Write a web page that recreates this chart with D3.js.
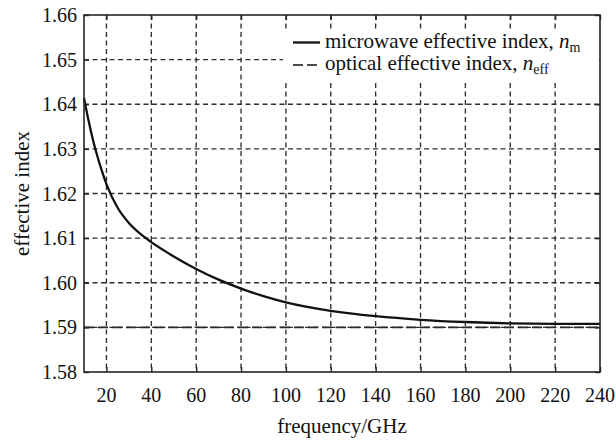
<!DOCTYPE html>
<html>
<head>
<meta charset="utf-8">
<script src="https://cdn.jsdelivr.net/npm/d3@7"></script>
<style>
  html, body { margin: 0; padding: 0; background: #fff; }
  svg { display: block; font-family: "Liberation Serif", "Times New Roman", serif; }
</style>
</head>
<body>
<svg id="chart" width="616" height="443"></svg>
<script>
// Microwave effective index n_m versus frequency (GHz)
const frequency = [10, 12, 14, 16, 18, 20, 25, 30, 35, 40, 50, 60, 70, 80, 90, 100, 120, 140, 160, 180, 200, 220, 240];
const microwaveIndex = [1.6414, 1.6364, 1.6320, 1.6283, 1.6250, 1.6221, 1.6168, 1.6134, 1.6110, 1.6091, 1.6059, 1.6031, 1.6007, 1.5987, 1.5970, 1.5956, 1.5937, 1.5925, 1.5917, 1.5912, 1.5909, 1.5908, 1.5908];
// Optical effective index n_eff (constant over the band)
const opticalFrequency = [10, 240];
const opticalIndex = [1.59, 1.59];

const xTicks = [20, 40, 60, 80, 100, 120, 140, 160, 180, 200, 220, 240];
const yTicks = [1.58, 1.59, 1.60, 1.61, 1.62, 1.63, 1.64, 1.65, 1.66];
const legendLabels = ["microwave effective index, ", "optical effective index, "];
const legendSymbols = ["n", "n"];
const legendSubscripts = ["m", "eff"];

const svg = d3.select("#chart");
const margin = { left: 84, top: 15, right: 16, bottom: 71 };
const W = 616, H = 443;
const x0 = margin.left, x1 = W - margin.right;
const y0 = margin.top, y1 = H - margin.bottom;

const x = d3.scaleLinear().domain([10, 240]).range([x0, x1]);
const y = d3.scaleLinear().domain([1.58, 1.66]).range([y1, y0]);

const ink = "#262626";
const textInk = "#111";
const tickFont = 20;
const titleFont = 21;

// grid
const grid = svg.append("g").attr("stroke", "#2e2e2e").attr("stroke-width", 1.35)
  .attr("stroke-dasharray", "5,3.5").attr("fill", "none");
grid.selectAll("line.v").data(xTicks.filter(t => t < 240)).join("line")
  .attr("class", "v")
  .attr("x1", d => x(d)).attr("x2", d => x(d))
  .attr("y1", y0).attr("y2", y1);
grid.selectAll("line.h").data(yTicks.filter(t => t > 1.58 && t < 1.66)).join("line")
  .attr("class", "h")
  .attr("x1", x0).attr("x2", x1)
  .attr("y1", d => y(d)).attr("y2", d => y(d));

// inward ticks on all four sides
const tickLen = 5;
const bottomAxis = d3.axisBottom(x).tickValues(xTicks).tickSize(-tickLen).tickFormat("");
const topAxis = d3.axisTop(x).tickValues(xTicks).tickSize(-tickLen).tickFormat("");
const leftAxis = d3.axisLeft(y).tickValues(yTicks).tickSize(-tickLen).tickFormat("");
const rightAxis = d3.axisRight(y).tickValues(yTicks).tickSize(-tickLen).tickFormat("");
[[bottomAxis, `translate(0,${y1})`], [topAxis, `translate(0,${y0})`],
 [leftAxis, `translate(${x0},0)`], [rightAxis, `translate(${x1},0)`]].forEach(([ax, tr]) => {
  const g = svg.append("g").attr("transform", tr).call(ax);
  g.select(".domain").remove();
  g.selectAll(".tick line").attr("stroke", ink).attr("stroke-width", 1.4);
});

// tick labels
svg.append("g").selectAll("text").data(xTicks).join("text")
  .attr("x", d => x(d)).attr("y", 402)
  .attr("text-anchor", "middle").attr("font-size", tickFont).attr("fill", textInk)
  .text(d => d);
svg.append("g").selectAll("text").data(yTicks).join("text")
  .attr("x", x0 - 7).attr("y", d => y(d) + 7)
  .attr("text-anchor", "end").attr("font-size", tickFont).attr("fill", textInk)
  .text(d => d.toFixed(2));

// axis titles
svg.append("text").attr("x", (x0 + x1) / 2).attr("y", 433)
  .attr("text-anchor", "middle").attr("font-size", titleFont).attr("fill", textInk)
  .text("frequency/GHz");
svg.append("text").attr("transform", `translate(29,${(y0 + y1) / 2}) rotate(-90)`)
  .attr("text-anchor", "middle").attr("font-size", titleFont).attr("fill", textInk)
  .text("effective index");

// series
const line = d3.line().x(d => x(d[0])).y(d => y(d[1])).curve(d3.curveMonotoneX);
svg.append("path")
  .datum(d3.zip(opticalFrequency, opticalIndex))
  .attr("d", line).attr("fill", "none")
  .attr("stroke", "#2a2a2a").attr("stroke-width", 1.7).attr("stroke-dasharray", "10,4");
svg.append("path")
  .datum(d3.zip(frequency, microwaveIndex))
  .attr("d", line).attr("fill", "none")
  .attr("stroke", "#111").attr("stroke-width", 2.3);

// legend
const lg = svg.append("g");
lg.append("rect").attr("x", 283).attr("y", 29).attr("width", x1 - 284).attr("height", 52)
  .attr("fill", "#fff");
const rows = [0, 1];
const rowY = [42.5, 65];
lg.selectAll("line").data(rows).join("line")
  .attr("x1", 293).attr("x2", 320)
  .attr("y1", i => rowY[i]).attr("y2", i => rowY[i])
  .attr("stroke", "#111")
  .attr("stroke-width", i => i === 0 ? 2.3 : 1.7)
  .attr("stroke-dasharray", i => i === 0 ? null : "10,4");
const lt = lg.selectAll("text").data(rows).join("text")
  .attr("x", 325).attr("y", i => rowY[i] + 5)
  .attr("font-size", titleFont).attr("fill", textInk);
lt.append("tspan").text(i => legendLabels[i]);
lt.append("tspan").attr("font-style", "italic").text(i => legendSymbols[i]);
lt.append("tspan").attr("font-size", 14).attr("dy", 4).text(i => legendSubscripts[i]);

// frame
svg.append("rect").attr("x", x0).attr("y", y0).attr("width", x1 - x0).attr("height", y1 - y0)
  .attr("fill", "none").attr("stroke", ink).attr("stroke-width", 1.6);
</script>
</body>
</html>
